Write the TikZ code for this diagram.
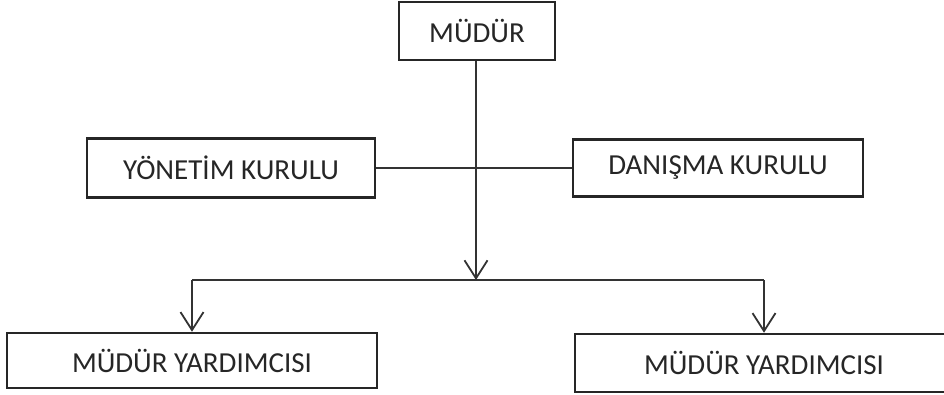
\documentclass[tikz,border=0pt]{standalone}
\usepackage{fontspec}
\setmainfont{Carlito}
\usepackage{xcolor}
\usetikzlibrary{shapes,arrows.meta,positioning,calc}

\begin{document}
\begin{tikzpicture}[x=1pt, y=-1pt,
    box/.style={rectangle, draw=black!85, line width=2.5pt, font=\fontsize{29}{31}\selectfont, text=black!85},
    link/.style={line width=2.5pt, draw=black!80},
    tip/.style={-{Straight Barb[length=18pt, width=23pt, line width=1.8pt]}}]
    \clip (0,0) rectangle (944,394);
    \node (director) [box, minimum width=156pt, minimum height=58pt] at (477,31) {MÜDÜR};
    \node (board) [box, minimum width=288pt, minimum height=59pt] at (231,168) {YÖNETİM KURULU};
    \node (advisory) [box, minimum width=290pt, minimum height=57pt] at (718,168) {DANIŞMA KURULU};
    \node (deputyA) [box, minimum width=370pt, minimum height=55pt] at (192,360.5) {MÜDÜR YARDIMCISI};
    \node (deputyB) [box, minimum width=378pt, minimum height=58pt] at (764,363) {MÜDÜR YARDIMCISI};

    \coordinate (split) at (476,280);

    \draw [link] (board) -- (advisory);
    \draw [link, tip] (director.south -| split) -- (split);
    \draw [link] (deputyA.north |- split) -- (deputyB.north |- split);
    \draw [link, tip] (deputyA.north |- split) -- (deputyA.north);
    \draw [link, tip] (deputyB.north |- split) -- (deputyB.north);
\end{tikzpicture}
\end{document}
